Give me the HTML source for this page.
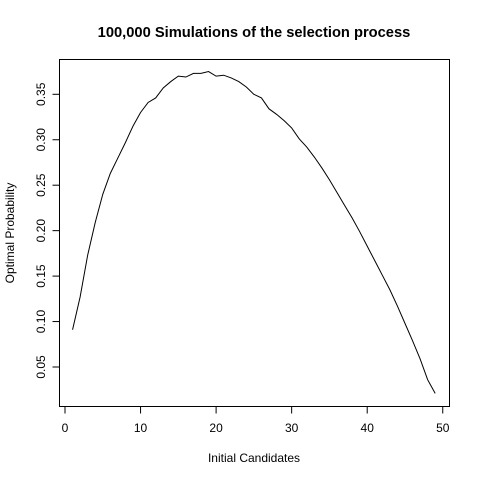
<!DOCTYPE html>
<html><head><meta charset="utf-8"><style>
html,body{margin:0;padding:0;background:#fff;}
svg{display:block;font-family:"Liberation Sans",Arial,sans-serif;}
</style></head><body>
<svg id="chart" width="480" height="480" viewBox="0 0 480 480">
<text x="254" y="37" text-anchor="middle" font-size="14.7" font-weight="bold">100,000 Simulations of the selection process</text>
<rect x="59.5" y="59.5" width="390" height="347" fill="none" stroke="#000" stroke-width="1"/>
<g id="xaxis"></g>
<g id="yaxis"></g>
<text x="254" y="462" text-anchor="middle" font-size="12">Initial Candidates</text>
<text transform="translate(14,233) rotate(-90)" text-anchor="middle" font-size="12">Optimal Probability</text>
<path id="series" fill="none" stroke="#000" stroke-width="1"/>
</svg>
<script>
const candidates = [1,2,3,4,5,6,7,8,9,10,11,12,13,14,15,16,17,18,19,20,21,22,23,24,25,26,27,28,29,30,31,32,33,34,35,36,37,38,39,40,41,42,43,44,45,46,47,48,49];
const probability = [0.091,0.127,0.173,0.209,0.240,0.263,0.280,0.297,0.315,0.330,0.341,0.346,0.357,0.364,0.370,0.369,0.373,0.373,0.375,0.370,0.371,0.368,0.364,0.358,0.350,0.346,0.334,0.328,0.321,0.313,0.301,0.292,0.281,0.269,0.256,0.242,0.228,0.214,0.199,0.183,0.167,0.151,0.135,0.117,0.098,0.079,0.059,0.036,0.021];
const xTicks = [0,10,20,30,40,50];
const yTicks = [0.05,0.10,0.15,0.20,0.25,0.30,0.35];
const yTickLabels = ["0.05","0.10","0.15","0.20","0.25","0.30","0.35"];

function xs(v){ return 65 + v*7.555; }
function ys(v){ return 367 - (v-0.05)*909; }
const NS = "http://www.w3.org/2000/svg";
const xa = document.getElementById('xaxis');
const ya = document.getElementById('yaxis');
function mk(tag, attrs){ const e=document.createElementNS(NS,tag); for(const k in attrs) e.setAttribute(k,attrs[k]); return e; }

const xl = mk('line',{x1:xs(xTicks[0]),x2:xs(xTicks[xTicks.length-1]),y1:406.5,y2:406.5,stroke:'#000'});


xa.appendChild(xl);
xTicks.forEach(t=>{
  const l = mk('line',{x1:xs(t),x2:xs(t),y1:406.5,y2:413.5,stroke:'#000'});
  
  
  xa.appendChild(l);
  const tx = mk('text',{x:xs(t),y:432,'text-anchor':'middle','font-size':12});
  
  
  tx.textContent = String(t);
  xa.appendChild(tx);
});

const yl = mk('line',{x1:59.5,x2:59.5,y1:ys(yTicks[0]),y2:ys(yTicks[yTicks.length-1]),stroke:'#000'});


ya.appendChild(yl);
yTicks.forEach((t,i)=>{
  const y = ys(t);
  const l = mk('line',{x1:52.5,x2:59.5,y1:y,y2:y,stroke:'#000'});
  
  
  ya.appendChild(l);
  const tx = mk('text',{transform:`translate(45,${y}) rotate(-90)`,'text-anchor':'middle','font-size':12});
  
  
  tx.textContent = yTickLabels[i];
  ya.appendChild(tx);
});

let d = '';
candidates.forEach((c,i)=>{ d += (i?'L':'M') + xs(c).toFixed(2) + ',' + ys(probability[i]).toFixed(2); });
document.getElementById('series').setAttribute('d', d);
</script>
</body></html>
